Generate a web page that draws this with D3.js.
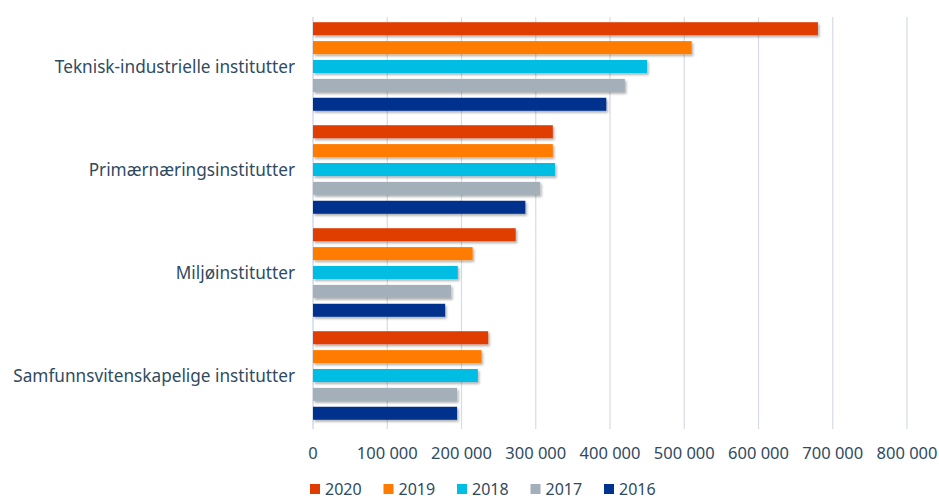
<!DOCTYPE html>
<html>
<head>
<meta charset="utf-8">
<script src="https://cdn.jsdelivr.net/npm/d3@7"></script>
<style>
  body { margin: 0; background: #fff; }
  text { font-family: "Noto Sans", "Open Sans", sans-serif; fill: #2f4b5f; }
</style>
</head>
<body>
<div id="chart"></div>
<script>
const CATEGORIES = ["Teknisk-industrielle institutter", "Primærnæringsinstitutter",
                    "Miljøinstitutter", "Samfunnsvitenskapelige institutter"];
const YEARS = ["2020", "2019", "2018", "2017", "2016"];
const VALUES_2020 = [680000, 323000, 273000, 236000];
const VALUES_2019 = [510000, 323000, 215000, 227000];
const VALUES_2018 = [450000, 326000, 195000, 222000];
const VALUES_2017 = [420000, 306000, 186000, 194000];
const VALUES_2016 = [395000, 286000, 178000, 194000];
const X_TICKS = [0, 100000, 200000, 300000, 400000, 500000, 600000, 700000, 800000];

const COLORING = {"2020": "#e03c00", "2019": "#ff7b00", "2018": "#00bde3",
                  "2017": "#a3b0b9", "2016": "#00338d"};

const SERIES = {"2020": VALUES_2020, "2019": VALUES_2019, "2018": VALUES_2018,
                "2017": VALUES_2017, "2016": VALUES_2016};

const W = 939, H = 499;
const margin = {top: 17, right: 32, bottom: 70, left: 313};

const svg = d3.select("#chart").append("svg")
    .attr("width", W).attr("height", H);

// soft drop shadow on the bars, like the original
const defs = svg.append("defs");
const shadow = defs.append("filter").attr("id", "shadow")
    .attr("x", "-5%").attr("y", "-30%").attr("width", "110%").attr("height", "180%");
shadow.append("feDropShadow")
    .attr("dx", 1.5).attr("dy", 2).attr("stdDeviation", 1.3)
    .attr("flood-color", "#000").attr("flood-opacity", 0.3);

const x = d3.scaleLinear().domain([0, 800000]).range([margin.left, W - margin.right]);
// bands sit a touch higher than the gridlines' span
const y = d3.scaleBand().domain(CATEGORIES).range([margin.top - 2, H - margin.bottom - 2])
    .paddingInner(0.14).paddingOuter(0.07);
const yInner = d3.scaleBand().domain(YEARS).range([0, y.bandwidth()]).paddingInner(0.31);

// gridlines
svg.append("g")
    .selectAll("line")
    .data(X_TICKS)
    .enter().append("line")
        .attr("x1", d => x(d)).attr("x2", d => x(d))
        .attr("y1", margin.top).attr("y2", H - margin.bottom)
        .style("stroke", d => d === 0 ? "#c8d2e4" : "#d6dbe5")
        .style("stroke-width", 1.2);

// bars
const groups = svg.append("g")
    .selectAll("g")
    .data(CATEGORIES)
    .enter().append("g")
        .attr("transform", d => "translate(0," + y(d) + ")");

groups.selectAll("rect")
    .data((c, i) => YEARS.map(yr => ({year: yr, value: SERIES[yr][i]})))
    .enter().append("rect")
        .attr("x", x(0))
        .attr("y", d => yInner(d.year))
        .attr("width", d => x(d.value) - x(0))
        .attr("height", yInner.bandwidth())
        .attr("filter", "url(#shadow)")
        .style("fill", d => COLORING[d.year]);

// category labels
svg.append("g")
    .selectAll("text")
    .data(CATEGORIES)
    .enter().append("text")
        .attr("x", margin.left - 18)
        .attr("y", d => y(d) + y.bandwidth() / 2)
        .attr("dy", "0.35em")
        .attr("text-anchor", "end")
        .style("font-size", "17.2px")
        .text(d => d);

// x tick labels
const fmt = d => d3.format(",")(d).replace(/,/g, " ");
svg.append("g")
    .selectAll("text")
    .data(X_TICKS)
    .enter().append("text")
        .attr("x", d => x(d))
        .attr("y", 453)
        .attr("dy", "0.35em")
        .attr("text-anchor", "middle")
        .style("font-size", "16.5px")
        .text(fmt);

// legend
const legend = svg.append("g")
    .selectAll("g")
    .data(YEARS)
    .enter().append("g")
        .attr("transform", (d, i) => "translate(" + (310 + i * 73.5) + ",489)");

legend.append("rect")
    .attr("x", 0).attr("y", -5).attr("width", 10).attr("height", 10)
    .style("fill", d => COLORING[d]);

legend.append("text")
    .attr("x", 15).attr("y", 0).attr("dy", "0.35em")
    .style("font-size", "16px")
    .text(d => d);
</script>
</body>
</html>
